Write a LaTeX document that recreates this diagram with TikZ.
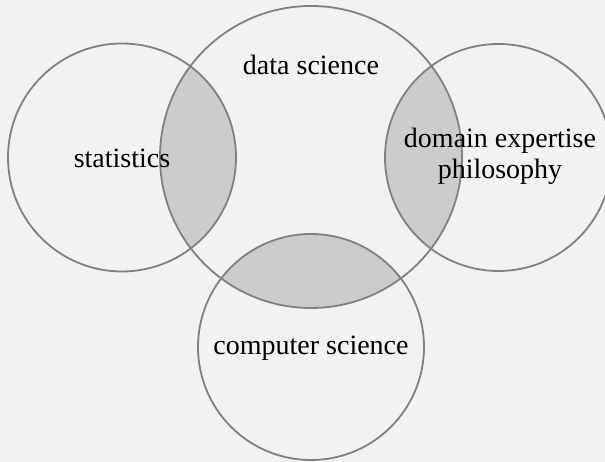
\documentclass[tikz,border=0pt]{standalone}
\usepackage{fontspec}
\setmainfont{Liberation Serif}
\usetikzlibrary{positioning}
\definecolor{paper}{HTML}{F2F2F2}
\definecolor{ringgray}{HTML}{808080}
\definecolor{overlap}{HTML}{CCCCCC}

\begin{document}
\begin{tikzpicture}[
  x=1pt, y=1pt,
  ring/.style={circle, draw=ringgray, line width=1.8pt, inner sep=0pt},
  lbl/.style={font=\fontsize{28}{31}\selectfont, align=center, inner sep=0pt}
]
  \fill[paper] (0,0) rectangle (605,462);
  \useasboundingbox (0,0) rectangle (605,462);

  % shaded overlaps with the big circle
  \begin{scope}
    \clip (311,305) circle (151pt);
    \fill[overlap] (122,304.5) circle (114pt);
    \fill[overlap] (498.5,304.5) circle (113.5pt);
    \fill[overlap] (311,115) circle (113pt);
  \end{scope}

  \node[ring, minimum size=228pt] (stat) at (122,304.5) {};
  \node[ring, minimum size=302pt] (ds) at (311,305) {};
  \node[ring, minimum size=227pt] (domain) at (498.5,304.5) {};
  \node[ring, minimum size=226pt] (cs) at (311,115) {};

  \node[lbl] (statlbl) at (122,303.5) {statistics};
  \node[lbl] (dslbl) at (311,397.5) {data science};
  \node[lbl] (domainlbl) at (500,305.5) {domain expertise\\philosophy};
  \node[lbl] (cslbl) at (311,114) {computer science};
\end{tikzpicture}
\end{document}
